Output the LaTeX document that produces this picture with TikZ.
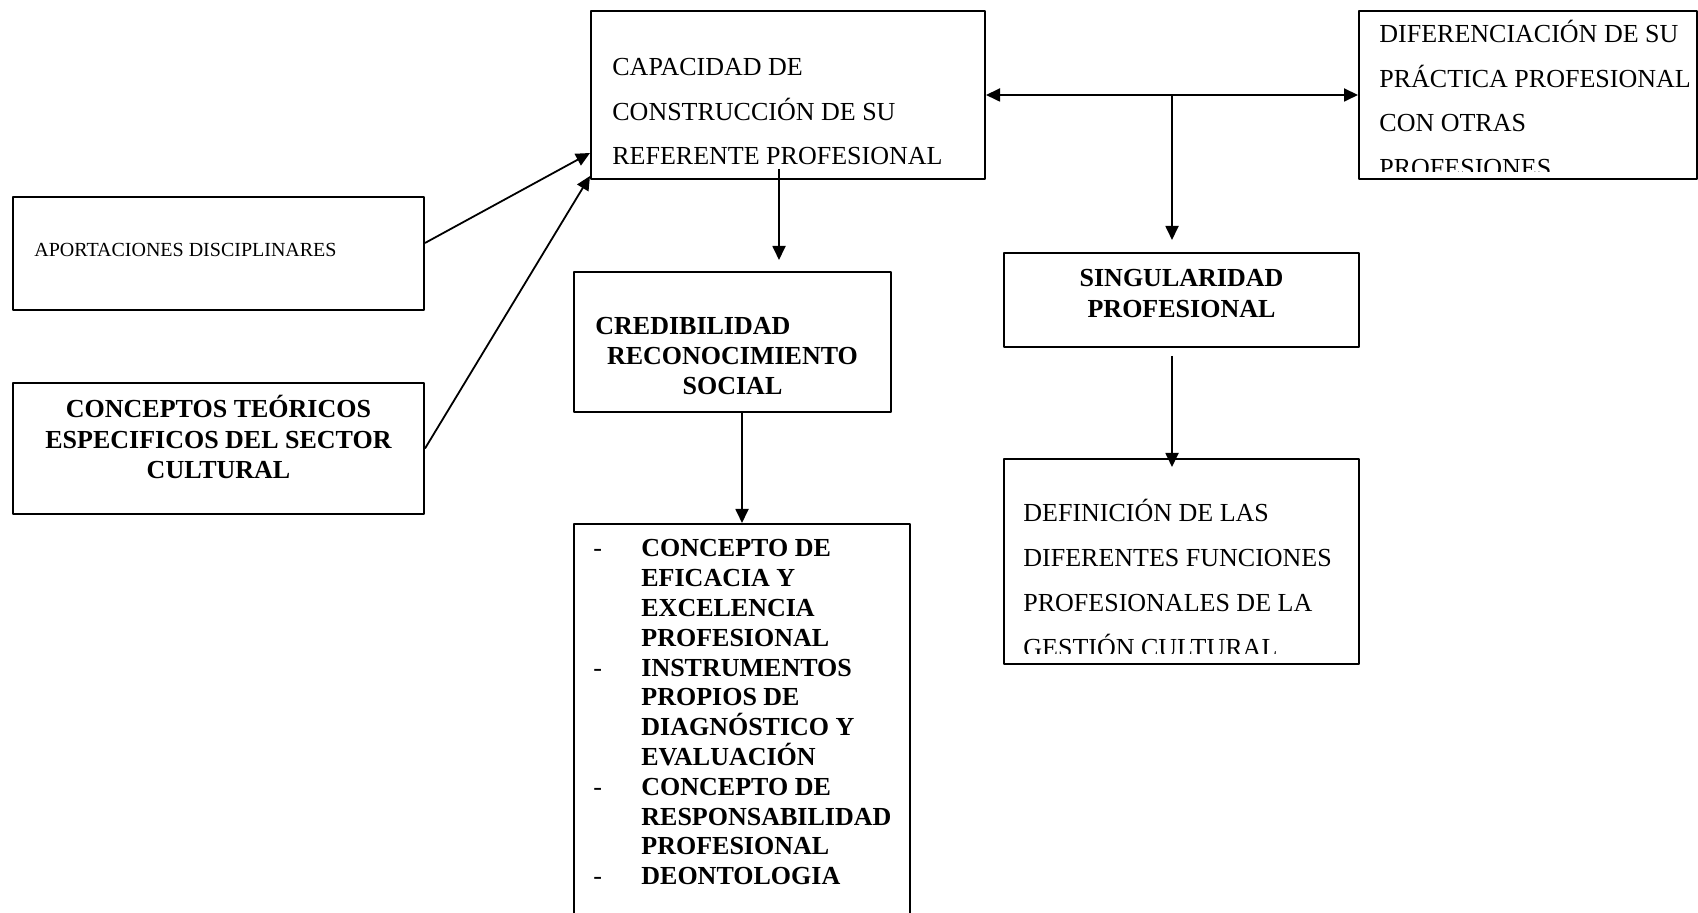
\documentclass[tikz,border=0pt]{standalone}
\usepackage{fontspec}
\setmainfont{Liberation Serif}
\usetikzlibrary{arrows.meta,fit}
\begin{document}
\begin{tikzpicture}[x=0.5pt,y=-0.5pt,line join=round,>={Triangle[length=7pt,width=6.5pt]},
	caja/.style={draw,line width=1pt,inner sep=0pt},
	txt/.style={inner sep=0pt,anchor=base west,font=\fontsize{13}{15}\selectfont},
	txtb/.style={inner sep=0pt,anchor=base,font=\fontsize{13}{15}\selectfont\bfseries},
	flecha/.style={->,line width=0.9pt}]
\useasboundingbox (0,0) rectangle (1698,913);
\node[caja,fit={(591,11) (985,179)}] (capac) {};
\node[caja,fit={(1359,11) (1697,179)}] (difer) {};
\node[caja,fit={(13,197) (424,310)}] (apor) {};
\node[caja,fit={(13,383) (424,514)}] (conc) {};
\node[caja,fit={(574,272) (891,412)}] (credi) {};
\node[caja,fit={(574,524) (910,930)}] (lista) {};
\node[caja,fit={(1004,253) (1359,347)}] (singu) {};
\node[caja,fit={(1004,459) (1359,664)}] (defin) {};
% textos
\foreach \t [count=\i from 0] in {CAPACIDAD DE,CONSTRUCCIÓN DE SU,REFERENTE PROFESIONAL}
	\node[txt] (capac\i) at (612,{76+44.5*\i}) {\t};
\begin{scope}
\clip (1360,12) rectangle (1696,172);
\foreach \t [count=\i from 0] in {DIFERENCIACIÓN DE SU,PRÁCTICA PROFESIONAL,CON OTRAS,PROFESIONES}
	\node[txt] (difer\i) at (1379,{43+44.5*\i}) {\t};
\end{scope}
\begin{scope}
\clip (1005,460) rectangle (1358,654);
\foreach \t [count=\i from 0] in {DEFINICIÓN DE LAS,DIFERENTES FUNCIONES,PROFESIONALES DE LA,GESTIÓN CULTURAL}
	\node[txt] (defin\i) at (1023,{522+45*\i}) {\t};
\end{scope}
\node[txt,font=\fontsize{10}{12}\selectfont] (apor0) at (34,257) {APORTACIONES DISCIPLINARES};
\foreach \t [count=\i from 0] in {CONCEPTOS TEÓRICOS,ESPECIFICOS DEL SECTOR,CULTURAL}
	\node[txtb] (conc\i) at (218.5,{418+30.3*\i}) {\t};
\node[txtb,anchor=base west] (credi0) at (595,335) {CREDIBILIDAD};
\node[txtb] (credi1) at (732.5,365) {RECONOCIMIENTO};
\node[txtb] (credi2) at (732.5,395) {SOCIAL};
\node[txtb] (singu0) at (1181.5,287) {SINGULARIDAD};
\node[txtb] (singu1) at (1181.5,318) {PROFESIONAL};
\foreach \t [count=\i from 0] in {CONCEPTO DE,EFICACIA Y,EXCELENCIA,PROFESIONAL,INSTRUMENTOS,PROPIOS DE,DIAGNÓSTICO Y,EVALUACIÓN,CONCEPTO DE,RESPONSABILIDAD,PROFESIONAL,DEONTOLOGIA}
	\node[txt,font=\fontsize{13}{15}\selectfont\bfseries] (lista\i) at (641,{557+29.8*\i}) {\t};
\foreach \i in {0,4,8,11}
	\node[txt] (guion\i) at (593,{557+29.8*\i}) {-};
% flechas
\coordinate (cruce) at (1172,95);
\coordinate (eje1) at (779,0);
\coordinate (eje2) at (742,0);
\draw[flecha,<->] (capac.east) -- (difer.west);
\draw[flecha,shorten >=6pt] (cruce) -- (cruce |- singu.north);
\draw[flecha,shorten <=-5.5pt,shorten >=5.5pt] (eje1 |- capac.south) -- (eje1 |- credi.north);
\draw[flecha] (eje2 |- credi.south) -- (eje2 |- lista.north);
\draw[flecha,shorten <=4pt,shorten >=-4.5pt] (cruce |- singu.south) -- (cruce |- defin.north);
\draw[flecha] ([yshift=5.25pt]apor.east) -- ([yshift=13.5pt]capac.south west);
\draw[flecha] (conc.east) -- ([yshift=2pt]capac.south west);
\end{tikzpicture}
\end{document}
